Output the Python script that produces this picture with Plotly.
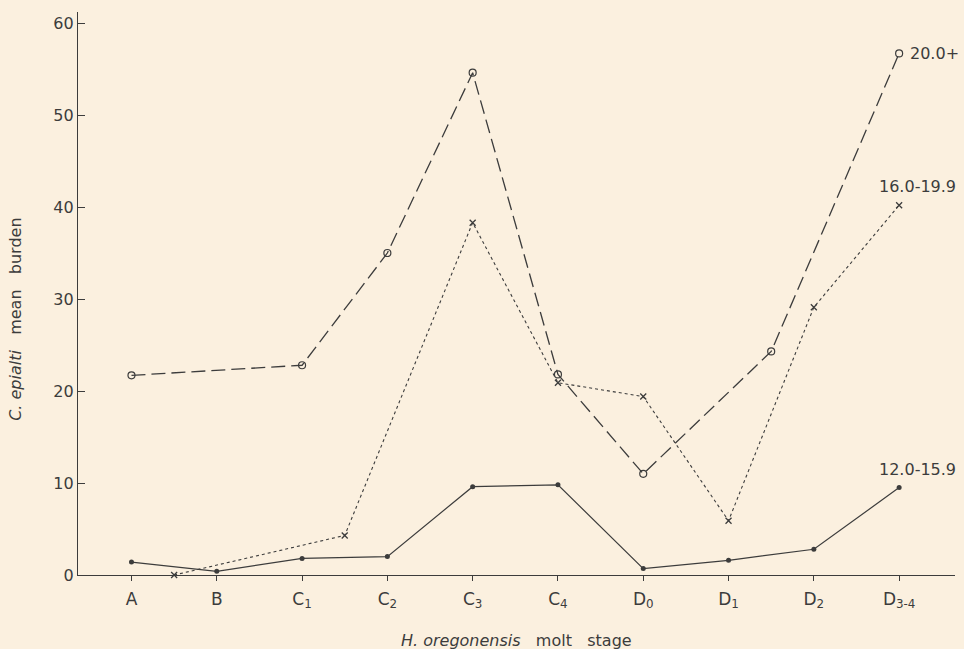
import plotly.graph_objects as go

# ---- data ----
stage_labels = ["A", "B", "C<sub>1</sub>", "C<sub>2</sub>", "C<sub>3</sub>", "C<sub>4</sub>",
                "D<sub>0</sub>", "D<sub>1</sub>", "D<sub>2</sub>", "D<sub>3-4</sub>"]
stage_index = [0, 1, 2, 3, 4, 5, 6, 7, 8, 9]

s20_name = "20.0+"
s20_x = [0, 2, 3, 4, 5, 6, 7.5, 9]
s20_y = [21.7, 22.8, 35.0, 54.6, 21.8, 11.0, 24.3, 56.7]

s16_name = "16.0-19.9"
s16_x = [0.5, 2.5, 4, 5, 6, 7, 8, 9]
s16_y = [0.0, 4.3, 38.3, 20.9, 19.4, 5.9, 29.1, 40.2]

s12_name = "12.0-15.9"
s12_x = [0, 1, 2, 3, 4, 5, 6, 7, 8, 9]
s12_y = [1.4, 0.4, 1.8, 2.0, 9.6, 9.8, 0.7, 1.6, 2.8, 9.5]

y_ticks = [0, 10, 20, 30, 40, 50, 60]

ink = "#3c3c3c"
bg = "#FBF0DF"
font_family = "DejaVu Sans"

fig = go.Figure()
fig.add_trace(go.Scatter(
    x=s20_x, y=s20_y, mode="lines+markers", name=s20_name,
    line=dict(color=ink, width=1.3, dash="14px,6px"),
    marker=dict(symbol="circle-open", size=7, color=ink, line=dict(width=1.2)),
    cliponaxis=False))
fig.add_trace(go.Scatter(
    x=s16_x, y=s16_y, mode="lines+markers", name=s16_name,
    line=dict(color=ink, width=1.1, dash="3px,3px"),
    marker=dict(symbol="x-thin-open", size=6, color=ink, line=dict(width=1.3, color=ink)),
    cliponaxis=False))
fig.add_trace(go.Scatter(
    x=s12_x, y=s12_y, mode="lines+markers", name=s12_name,
    line=dict(color=ink, width=1.2),
    marker=dict(symbol="circle", size=5, color=ink),
    cliponaxis=False))

# series labels at the right end
fig.add_annotation(x=s20_x[-1], y=s20_y[-1], text=s20_name, showarrow=False,
                   xanchor="left", yanchor="middle", xshift=9,
                   font=dict(size=16, color=ink, family=font_family))
fig.add_annotation(x=s16_x[-1], y=s16_y[-1], text=s16_name, showarrow=False,
                   xanchor="left", yanchor="bottom", xshift=-22, yshift=7,
                   font=dict(size=16, color=ink, family=font_family))
fig.add_annotation(x=s12_x[-1], y=s12_y[-1], text=s12_name, showarrow=False,
                   xanchor="left", yanchor="bottom", xshift=-22, yshift=7,
                   font=dict(size=16, color=ink, family=font_family))

# axis titles
fig.add_annotation(xref="paper", yref="paper", x=0.5, y=-0.1155,
                   text="<i>H. oregonensis</i>&nbsp;&nbsp;&nbsp;molt&nbsp;&nbsp;&nbsp;stage",
                   showarrow=False, xanchor="center", yanchor="middle",
                   font=dict(size=16, color=ink, family=font_family))
fig.add_annotation(xref="paper", yref="paper", x=-0.0707, y=0.455,
                   text="<i>C. epialti</i>&nbsp;&nbsp;&nbsp;mean&nbsp;&nbsp;&nbsp;burden",
                   showarrow=False, textangle=-90, xanchor="center", yanchor="middle",
                   font=dict(size=16, color=ink, family=font_family))

fig.update_layout(
    width=964, height=649,
    margin=dict(l=78, r=9, t=12, b=74),
    paper_bgcolor=bg, plot_bgcolor=bg,
    showlegend=False,
    font=dict(family=font_family, color=ink),
)
fig.update_xaxes(
    range=[-0.627, 9.655], tickvals=stage_index, ticktext=stage_labels,
    showline=True, linecolor=ink, linewidth=1.2, ticks="outside", ticklen=5,
    tickcolor=ink, tickwidth=1, showgrid=False, zeroline=False,
    tickfont=dict(size=17, color=ink, family=font_family), ticklabelstandoff=3)
fig.update_yaxes(
    range=[0, 61.2], tickvals=y_ticks, ticktext=[str(v) for v in y_ticks],
    showline=True, linecolor=ink, linewidth=1.2, ticks="inside", ticklen=7,
    tickcolor=ink, tickwidth=1.2, showgrid=False, zeroline=False,
    tickfont=dict(size=16, color=ink, family=font_family))

fig.write_html("out.html", config={"displayModeBar": False},
               post_script="document.body.style.margin='0';document.body.style.background='%s';" % bg)
